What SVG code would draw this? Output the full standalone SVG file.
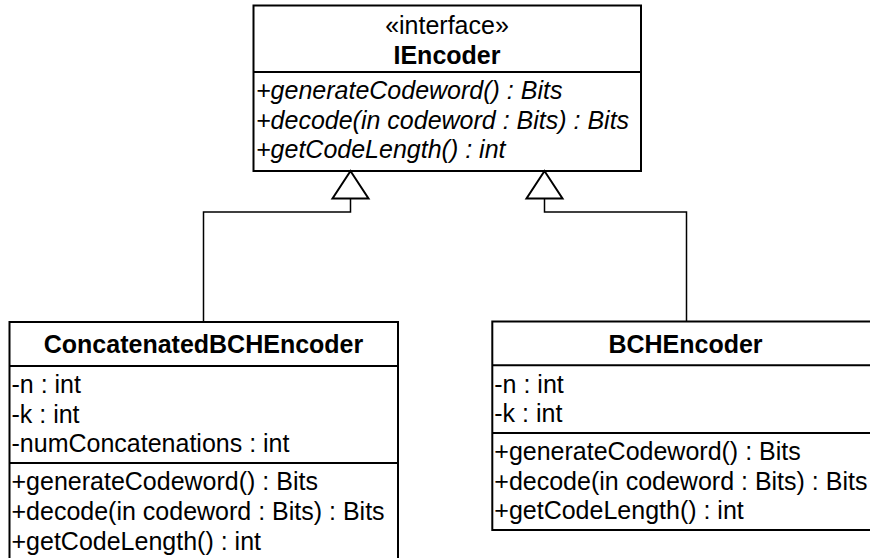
<svg xmlns="http://www.w3.org/2000/svg" width="870" height="558" viewBox="0 0 870 558">
<style>
.box{fill:#fff;stroke:#000;stroke-width:2}
.div{stroke:#000;stroke-width:2}
.t{font-family:"Liberation Sans",Arial,sans-serif;font-size:25px;fill:#000}
.c{text-anchor:middle}
.b{font-weight:bold}
.i{font-style:italic}
.conn{fill:none;stroke:#000;stroke-width:1.5}
.tri{fill:#fff;stroke:#000;stroke-width:2;stroke-linejoin:miter}
</style>
<rect width="870" height="558" fill="#fff"/>
<g id="IEncoder">
<rect class="box" x="253.5" y="5.5" width="387.5" height="165.5"/>
<line class="div" x1="253.5" y1="72" x2="641" y2="72"/>
<text class="t c" x="447" y="34">«interface»</text>
<text class="t c b" x="447" y="63.5">IEncoder</text>
<text class="t i" x="256" y="99">+generateCodeword() : Bits</text>
<text class="t i" x="256" y="128.5">+decode(in codeword : Bits) : Bits</text>
<text class="t i" x="256" y="158">+getCodeLength() : int</text>
</g>
<g id="ConcatenatedBCHEncoder">
<rect class="box" x="9.5" y="322" width="388.5" height="250"/>
<line class="div" x1="9.5" y1="366" x2="398" y2="366"/>
<line class="div" x1="9.5" y1="463" x2="398" y2="463"/>
<text class="t c b" x="203.5" y="353">ConcatenatedBCHEncoder</text>
<text class="t" x="11.5" y="393">-n : int</text>
<text class="t" x="11.5" y="422.7">-k : int</text>
<text class="t" x="11.5" y="452.4">-numConcatenations : int</text>
<text class="t" x="11.5" y="490">+generateCodeword() : Bits</text>
<text class="t" x="11.5" y="520.3">+decode(in codeword : Bits) : Bits</text>
<text class="t" x="11.5" y="550.3">+getCodeLength() : int</text>
</g>
<g id="BCHEncoder">
<rect class="box" x="492.3" y="321.5" width="386.5" height="208.5"/>
<line class="div" x1="492.3" y1="365.3" x2="878.8" y2="365.3"/>
<line class="div" x1="492.3" y1="433" x2="878.8" y2="433"/>
<text class="t c b" x="685.5" y="352.5">BCHEncoder</text>
<text class="t" x="494.3" y="392.5">-n : int</text>
<text class="t" x="494.3" y="422.2">-k : int</text>
<text class="t" x="494.3" y="460">+generateCodeword() : Bits</text>
<text class="t" x="494.3" y="489.7">+decode(in codeword : Bits) : Bits</text>
<text class="t" x="494.3" y="519.4">+getCodeLength() : int</text>
</g>
<g id="connectors">
<polyline class="conn" points="350.5,198.5 350.5,212 203.5,212 203.5,322"/>
<polygon class="tri" points="350.5,171 332.5,198.5 368.5,198.5"/>
<polyline class="conn" points="544.5,198.5 544.5,212 686.5,212 686.5,321.5"/>
<polygon class="tri" points="544.5,171 526.5,198.5 562.5,198.5"/>
</g>
</svg>
